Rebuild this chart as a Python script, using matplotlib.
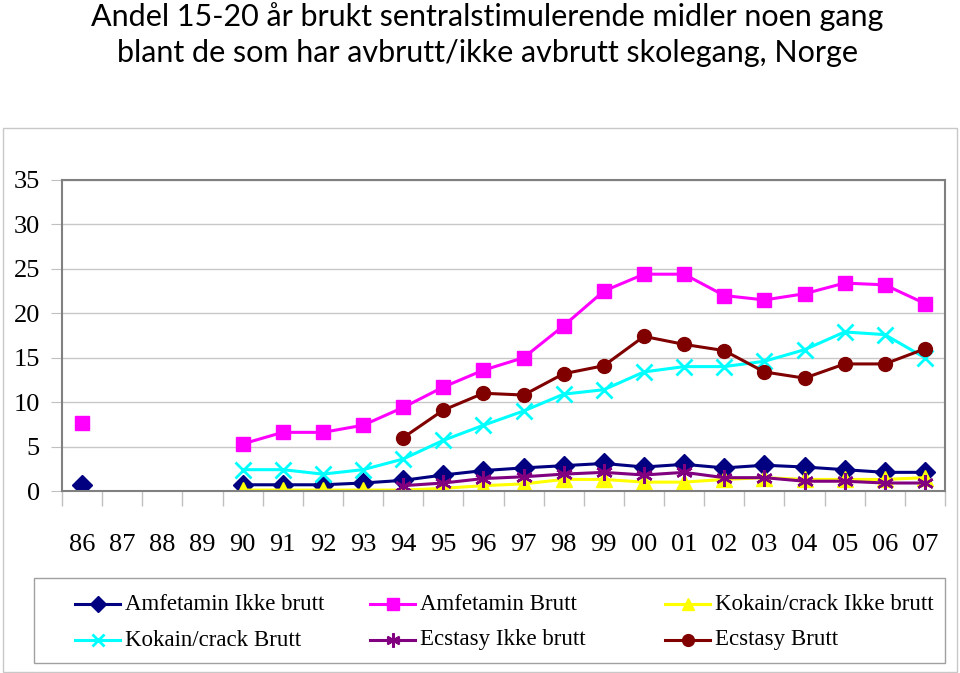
import numpy as np
import matplotlib
matplotlib.use("Agg")
import matplotlib.pyplot as plt
from matplotlib.patches import Rectangle
from matplotlib.lines import Line2D

plt.rcParams["font.family"] = ["Liberation Serif", "DejaVu Serif"]

nan = np.nan
years = ["86", "87", "88", "89", "90", "91", "92", "93", "94", "95", "96",
         "97", "98", "99", "00", "01", "02", "03", "04", "05", "06", "07"]

amf_ikke = [0.7, nan, nan, nan, 0.7, 0.7, 0.7, 0.9, 1.2, 1.8, 2.3, 2.6, 2.85, 3.1,
            2.7, 3.0, 2.6, 2.9, 2.7, 2.4, 2.1, 2.1]
amf_brutt = [7.7, nan, nan, nan, 5.3, 6.6, 6.6, 7.4, 9.4, 11.7, 13.6, 15.0, 18.6, 22.5,
             24.4, 24.4, 22.0, 21.5, 22.2, 23.4, 23.2, 21.1]
kok_ikke = [nan, nan, nan, nan, 0.1, 0.1, 0.1, 0.1, 0.1, 0.3, 0.6, 0.8, 1.3, 1.3,
            1.0, 1.0, 1.3, 1.5, 1.3, 1.3, 1.3, 1.5]
kok_brutt = [nan, nan, nan, nan, 2.4, 2.4, 1.9, 2.4, 3.6, 5.7, 7.4, 9.0, 10.9, 11.4,
             13.4, 14.0, 14.0, 14.6, 15.9, 17.9, 17.6, 15.0]
ecs_ikke = [nan, nan, nan, nan, nan, nan, nan, nan, 0.6, 0.9, 1.4, 1.6, 1.9, 2.1,
            1.8, 2.1, 1.5, 1.5, 1.1, 1.1, 0.9, 0.9]
ecs_brutt = [nan, nan, nan, nan, nan, nan, nan, nan, 6.0, 9.1, 11.0, 10.8, 13.2, 14.1,
             17.4, 16.5, 15.8, 13.4, 12.7, 14.3, 14.3, 16.0]

labels = ["Amfetamin Ikke brutt", "Amfetamin Brutt", "Kokain/crack Ikke brutt",
          "Kokain/crack Brutt", "Ecstasy Ikke brutt", "Ecstasy Brutt"]
title = ("Andel 15-20 år brukt sentralstimulerende midler noen gang\n"
         "blant de som har avbrutt/ikke avbrutt skolegang, Norge")

W, H = 960, 673
fig = plt.figure(figsize=(9.6, 6.73), dpi=100)
fig.patch.set_facecolor("white")
ax = fig.add_axes([62/W, 1-491/H, 883/W, 311/H])

x = np.arange(len(years))
styles = [
    (amf_ikke, "#000080", "D", 10, dict()),
    (amf_brutt, "#FF00FF", "s", 10, dict()),
    (kok_ikke, "#FFFF00", "^", 11, dict()),
    (kok_brutt, "#00FFFF", "x", 11, dict(markeredgewidth=2)),
    (ecs_ikke, "#800080", (6, 2, 0), 12, dict(markeredgewidth=1.8)),
    (ecs_brutt, "#800000", "o", 10, dict()),
]
for (vals, col, mk, ms, extra), lab in zip(styles, labels):
    ax.plot(x, vals, color=col, lw=2.2, marker=mk, markersize=ms,
            markerfacecolor=col, markeredgecolor=col, label=lab, **extra)

ax.set_xlim(-0.5, len(years) - 0.5)
ax.set_ylim(0, 35)
ax.set_yticks(range(0, 36, 5))
ax.set_xticks(x)
ax.set_xticklabels(years)
ax.set_xticks(np.arange(-0.5, len(years), 1.0), minor=True)
ax.tick_params(axis="x", which="major", length=0, pad=31, labelsize=19)
ax.tick_params(axis="x", which="minor", length=11, color="#C0C0C0", width=1)
ax.tick_params(axis="y", length=8, color="#C0C0C0", pad=8, labelsize=19)
ax.yaxis.grid(True, color="#C8C8C8", lw=1)
ax.set_axisbelow(True)
for s in ax.spines.values():
    s.set_color("#808080")
    s.set_linewidth(1.5)

fig.text(0.508, 0.997, title, ha="center", va="top", fontsize=22,
         family=["Lato", "DejaVu Sans"], linespacing=1.35)

# outer chart border
fig.patches.append(Rectangle((3/W, 1-672/H), 954/W, 544/H,
                             transform=fig.transFigure, fill=False,
                             edgecolor="#C8C8C8", lw=1))

# legend (drawn as a boxed 3x2 key)
fig.patches.append(Rectangle((34/W, 1-663/H), 911/W, 85/H,
                             transform=fig.transFigure, fill=False,
                             edgecolor="#A0A0A0", lw=1))
col_x = [75, 370, 665]
row_y = [604, 640]
for i, ((vals, col, mk, ms, extra), lab) in enumerate(zip(styles, labels)):
    r, c = divmod(i, 3)
    x0, y0 = col_x[c], row_y[r]
    yf = 1 - y0 / H
    fig.add_artist(Line2D([x0/W, (x0+45)/W], [yf, yf], transform=fig.transFigure,
                          color=col, lw=2.2))
    fig.add_artist(Line2D([(x0+22.5)/W], [yf], transform=fig.transFigure,
                          color=col, marker=mk, markersize=ms*0.85,
                          markerfacecolor=col, markeredgecolor=col, **extra))
    fig.text((x0+50)/W, yf, lab, ha="left", va="center", fontsize=16.5)

fig.savefig("out.png", dpi=100)
